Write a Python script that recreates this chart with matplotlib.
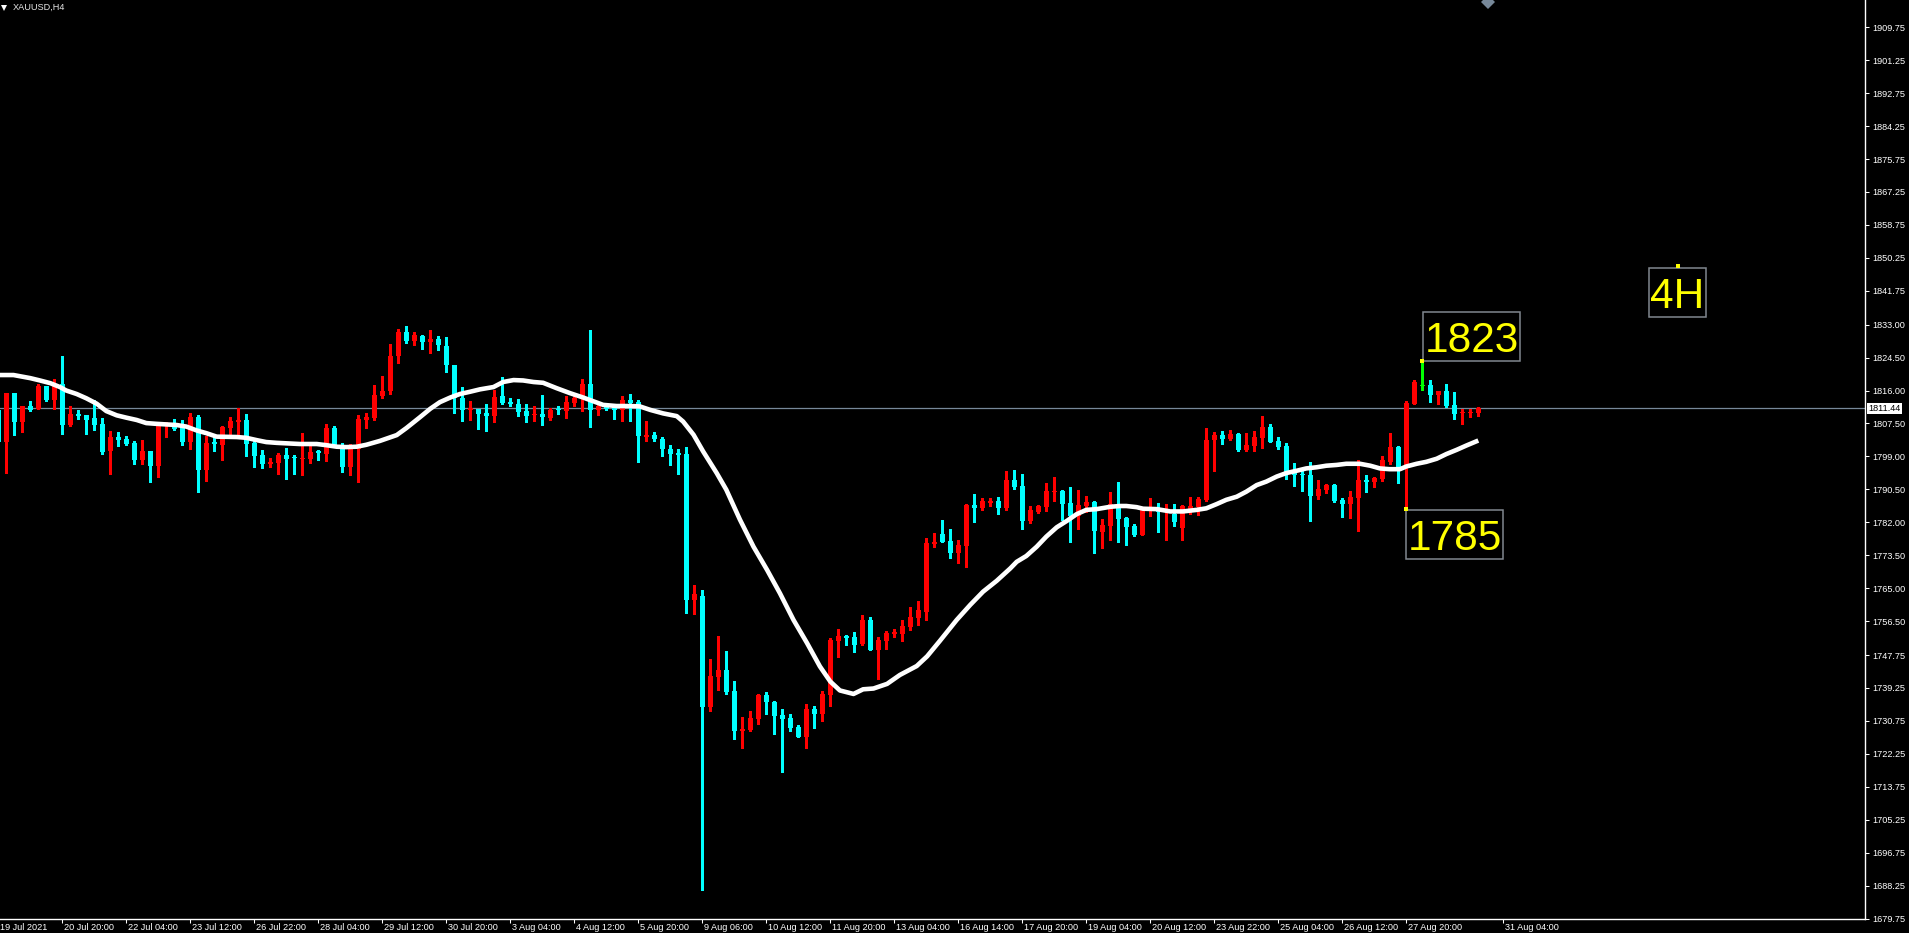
import numpy as np
import matplotlib
matplotlib.use("Agg")
import matplotlib.pyplot as plt
import matplotlib.transforms as mtransforms
from matplotlib import font_manager
from matplotlib.lines import Line2D
from matplotlib.path import Path

# ---------------- data ----------------
chart_title = "XAUUSD,H4"
first_bar = -1

opens = [1811.0, 1802.8, 1815.3, 1808.0, 1812.0, 1811.3, 1817.2, 1813.6, 1817.7, 1807.1,
         1810.0, 1809.6, 1808.8, 1807.4, 1800.3, 1804.1, 1803.5, 1802.4, 1798.1, 1800.5,
         1796.4, 1807.0, 1807.1, 1807.1, 1802.8, 1809.2, 1795.5, 1802.6, 1802.0, 1806.4,
         1808.0, 1808.4, 1802.5, 1799.4, 1797.1, 1797.3, 1799.4, 1798.9, 1798.4, 1798.4,
         1800.5, 1799.7, 1806.4, 1802.0, 1796.3, 1801.0, 1808.4, 1808.9, 1814.65, 1815.8,
         1824.8, 1831.1, 1828.8, 1830.2, 1828.4, 1829.4, 1827.5, 1822.6, 1814.1, 1810.9,
         1811.3, 1810.3, 1809.5, 1814.6, 1813.1, 1812.6, 1810.8, 1809.6, 1810.0, 1808.8,
         1811.2, 1810.8, 1812.9, 1814.0, 1817.8, 1811.1, 1812.0, 1811.9, 1810.9, 1813.6,
         1813.0, 1803.9, 1804.4, 1803.6, 1801.0, 1799.9, 1799.7, 1761.9, 1763.0, 1734.4,
         1742.2, 1743.9, 1738.5, 1728.2, 1728.5, 1731.3, 1737.5, 1735.7, 1732.3, 1731.5,
         1729.2, 1726.6, 1733.8, 1732.5, 1737.5, 1751.4, 1752.7, 1752.4, 1750.6, 1756.8,
         1749.1, 1751.4, 1753.2, 1753.2, 1755.0, 1757.3, 1758.9, 1776.4, 1779.0, 1777.2,
         1774.1, 1775.9, 1786.5, 1785.7, 1787.0, 1787.5, 1785.7, 1793.0, 1791.4, 1782.4,
         1784.7, 1786.0, 1789.8, 1790.1, 1787.0, 1783.7, 1786.2, 1787.3, 1779.5, 1781.1,
         1786.5, 1783.1, 1781.1, 1778.8, 1785.0, 1785.2, 1784.8, 1784.2, 1780.6, 1785.5,
         1786.0, 1787.8, 1803.3, 1804.6, 1803.5, 1804.8, 1800.7, 1801.7, 1803.8, 1806.6,
         1803.0, 1801.7, 1794.7, 1794.5, 1794.2, 1788.8, 1790.4, 1791.7, 1787.8, 1786.8,
         1788.3, 1792.9, 1792.4, 1793.2, 1797.6, 1801.5, 1796.3, 1812.5, 1817.2, 1817.5,
         1814.9, 1815.9, 1812.3, 1810.1, 1810.2, 1810.2]
highs = [1811.6, 1815.3, 1815.3, 1812.0, 1813.3, 1817.7, 1817.2, 1818.9, 1824.9, 1812.0,
         1811.0, 1809.6, 1813.6, 1809.0, 1805.6, 1805.3, 1804.3, 1803.0, 1803.3, 1800.5,
         1807.1, 1807.9, 1808.7, 1808.4, 1810.2, 1809.7, 1804.3, 1804.1, 1806.9, 1809.2,
         1811.5, 1810.0, 1803.0, 1800.7, 1798.6, 1799.9, 1801.2, 1799.4, 1805.1, 1801.7,
         1800.7, 1807.4, 1806.9, 1802.5, 1802.2, 1809.7, 1810.2, 1817.5, 1819.8, 1828.1,
         1832.0, 1832.7, 1831.1, 1830.4, 1831.5, 1830.2, 1829.8, 1822.6, 1816.9, 1813.3,
         1811.3, 1812.5, 1816.1, 1819.4, 1814.0, 1813.9, 1812.6, 1812.1, 1814.9, 1811.5,
         1811.9, 1814.7, 1814.9, 1819.0, 1831.7, 1812.9, 1812.2, 1812.1, 1814.7, 1815.0,
         1813.6, 1808.2, 1805.4, 1803.9, 1802.0, 1800.8, 1801.4, 1765.9, 1764.6, 1746.8,
         1752.7, 1748.9, 1741.1, 1731.8, 1733.4, 1737.6, 1738.2, 1735.9, 1733.8, 1732.5,
         1729.7, 1735.1, 1734.6, 1738.5, 1752.2, 1754.5, 1752.9, 1753.7, 1758.1, 1757.6,
         1752.4, 1754.0, 1754.5, 1756.8, 1760.2, 1761.7, 1778.0, 1779.3, 1782.6, 1780.3,
         1777.5, 1786.8, 1789.3, 1788.3, 1788.3, 1788.6, 1795.3, 1795.5, 1794.5, 1786.2,
         1786.4, 1792.2, 1793.7, 1790.4, 1791.1, 1790.4, 1788.8, 1787.5, 1782.9, 1789.9,
         1792.4, 1783.4, 1781.6, 1785.7, 1788.3, 1787.0, 1786.8, 1786.8, 1786.5, 1788.6,
         1788.6, 1806.4, 1805.3, 1805.6, 1805.8, 1805.0, 1805.1, 1805.6, 1809.5, 1807.4,
         1804.0, 1802.5, 1797.3, 1795.5, 1797.6, 1792.9, 1791.8, 1791.9, 1788.3, 1790.1,
         1798.1, 1794.2, 1793.7, 1799.1, 1805.1, 1801.7, 1813.3, 1818.7, 1823.7, 1818.7,
         1816.0, 1817.7, 1815.7, 1811.3, 1811.3, 1811.8]
lows = [1801.8, 1794.8, 1804.6, 1805.4, 1810.6, 1811.3, 1813.4, 1811.3, 1804.8, 1806.9,
        1808.7, 1804.8, 1805.8, 1799.6, 1794.5, 1801.7, 1802.0, 1797.1, 1797.1, 1792.4,
        1793.7, 1804.0, 1805.8, 1802.0, 1801.0, 1789.7, 1792.7, 1800.4, 1798.1, 1804.6,
        1804.6, 1799.1, 1796.3, 1796.0, 1796.3, 1794.5, 1793.2, 1794.5, 1794.2, 1797.3,
        1798.1, 1797.8, 1802.0, 1795.0, 1794.2, 1792.4, 1806.4, 1808.4, 1814.2, 1815.0,
        1823.1, 1828.2, 1827.7, 1826.7, 1825.7, 1826.4, 1820.7, 1810.1, 1808.2, 1808.5,
        1806.1, 1805.6, 1808.0, 1812.4, 1812.0, 1809.3, 1808.0, 1808.2, 1807.0, 1808.5,
        1809.9, 1808.8, 1811.9, 1810.6, 1806.6, 1809.8, 1810.9, 1808.7, 1808.2, 1808.2,
        1797.6, 1803.0, 1803.0, 1799.2, 1796.8, 1794.5, 1758.7, 1758.4, 1687.0, 1733.4,
        1738.8, 1737.7, 1726.1, 1723.7, 1728.2, 1730.0, 1732.5, 1727.4, 1717.6, 1728.2,
        1726.6, 1723.8, 1728.9, 1730.7, 1734.6, 1747.3, 1750.4, 1748.6, 1750.4, 1749.1,
        1741.6, 1749.3, 1752.4, 1751.4, 1754.2, 1755.5, 1756.8, 1775.7, 1776.9, 1772.8,
        1771.5, 1770.5, 1782.1, 1785.2, 1786.2, 1784.2, 1785.2, 1790.6, 1780.3, 1781.8,
        1784.4, 1784.9, 1787.5, 1782.6, 1776.9, 1780.3, 1784.7, 1774.1, 1775.4, 1777.4,
        1776.9, 1776.2, 1778.5, 1778.8, 1783.6, 1779.5, 1777.5, 1781.1, 1777.5, 1784.2,
        1783.9, 1787.5, 1795.3, 1802.2, 1803.3, 1800.4, 1800.4, 1800.4, 1801.2, 1802.8,
        1800.9, 1793.2, 1791.4, 1790.1, 1782.4, 1788.0, 1789.6, 1787.3, 1783.4, 1783.1,
        1779.8, 1789.8, 1791.1, 1792.7, 1797.1, 1792.2, 1785.5, 1812.5, 1816.2, 1813.1,
        1812.6, 1811.8, 1808.7, 1807.4, 1809.2, 1809.5]
closes = [1802.8, 1815.3, 1808.0, 1812.0, 1811.0, 1817.2, 1813.6, 1817.7, 1807.1, 1810.0,
          1809.5, 1808.4, 1807.1, 1800.1, 1804.0, 1803.3, 1802.2, 1798.1, 1800.5, 1796.4,
          1807.1, 1807.1, 1806.0, 1802.8, 1809.2, 1795.5, 1802.4, 1802.3, 1806.6, 1808.2,
          1808.5, 1802.2, 1799.1, 1797.1, 1797.6, 1799.4, 1798.4, 1798.5, 1798.7, 1800.2,
          1800.0, 1806.4, 1802.0, 1796.3, 1801.0, 1808.7, 1809.2, 1814.9, 1816.0, 1825.0,
          1831.1, 1828.8, 1830.4, 1828.4, 1829.4, 1827.7, 1822.5, 1814.0, 1810.9, 1811.5,
          1810.0, 1809.5, 1814.4, 1812.9, 1812.4, 1810.5, 1809.5, 1810.0, 1809.1, 1811.0,
          1810.9, 1813.1, 1814.0, 1817.8, 1811.1, 1812.0, 1811.3, 1810.9, 1813.6, 1812.9,
          1804.2, 1804.4, 1803.4, 1800.8, 1799.7, 1799.4, 1761.9, 1763.5, 1734.4, 1742.4,
          1743.9, 1738.2, 1728.2, 1728.7, 1731.5, 1737.4, 1735.7, 1732.0, 1731.3, 1728.9,
          1726.6, 1733.8, 1732.5, 1737.7, 1751.7, 1752.7, 1752.2, 1750.4, 1756.8, 1749.1,
          1751.7, 1753.5, 1753.7, 1755.3, 1757.6, 1759.4, 1776.7, 1776.9, 1776.9, 1774.1,
          1776.2, 1786.5, 1785.7, 1787.5, 1787.5, 1785.7, 1793.0, 1791.1, 1782.4, 1785.2,
          1786.2, 1790.1, 1790.2, 1786.8, 1783.7, 1786.5, 1787.3, 1779.8, 1781.3, 1786.8,
          1782.9, 1780.8, 1778.8, 1785.2, 1785.4, 1784.7, 1785.2, 1782.1, 1786.2, 1786.2,
          1788.0, 1803.3, 1804.6, 1803.5, 1804.8, 1800.7, 1802.0, 1804.0, 1806.6, 1802.8,
          1801.5, 1794.7, 1794.3, 1794.2, 1788.8, 1790.6, 1791.7, 1787.5, 1786.8, 1788.6,
          1792.9, 1792.5, 1793.4, 1798.1, 1801.5, 1796.3, 1812.8, 1818.2, 1817.2, 1814.9,
          1815.9, 1812.0, 1810.0, 1810.4, 1810.5, 1811.44]

ma_bars = [-0.8, 0.9, 3.0, 4.2, 5.5, 6.7, 7.5, 8.8, 10.0, 11.3, 12.5, 13.8, 15.0, 16.3,
           17.5, 18.8, 21.3, 22.5, 23.8, 25.0, 26.3, 28.8, 30.0, 31.3, 32.5, 33.8, 36.7,
           38.8, 40.0, 41.3, 42.5, 43.8, 45.0, 46.7, 48.8, 50.0, 51.7, 53.0, 54.2, 55.5,
           56.7, 58.0, 59.2, 60.9, 62.1, 63.4, 64.6, 65.9, 67.1, 68.8, 70.5, 72.1, 73.4,
           74.6, 76.3, 78.0, 79.2, 80.5, 82.1, 83.8, 84.6, 85.9, 87.1, 88.8, 90.0, 91.7,
           93.4, 95.1, 96.7, 98.4, 100.1, 101.7, 103.0, 104.2, 105.9, 107.1, 108.4, 110.1,
           111.7, 113.8, 115.1, 116.7, 118.8, 120.5, 122.1, 123.8, 125.5, 126.3, 127.5,
           128.8, 130.0, 131.3, 132.6, 133.8, 135.0, 136.3, 138.0, 139.2, 140.0, 141.3,
           142.1, 143.8, 145.5, 147.1, 148.8, 150.0, 151.3, 152.5, 153.8, 155.0, 156.3,
           157.5, 158.8, 160.0, 161.3, 162.5, 163.8, 165.0, 166.3, 167.5, 169.2, 170.5,
           171.7, 172.9, 174.2, 175.0, 176.3, 177.5, 178.8, 180.0, 181.3, 182.5, 184.0]
ma_values = [1820.0, 1820.0, 1819.2, 1818.6, 1817.9, 1816.9, 1816.0, 1815.1, 1814.0, 1812.6,
             1810.7, 1809.6, 1809.0, 1808.4, 1807.6, 1807.4, 1807.1, 1806.7, 1805.7, 1805.0,
             1804.1, 1804.0, 1803.8, 1803.2, 1802.7, 1802.5, 1802.2, 1802.2, 1801.9, 1801.5,
             1801.4, 1801.5, 1802.0, 1803.0, 1804.5, 1806.3, 1809.1, 1811.3, 1813.0, 1814.2,
             1815.1, 1815.7, 1816.3, 1816.9, 1818.2, 1818.7, 1818.6, 1818.2, 1818.0, 1816.6,
             1815.3, 1814.2, 1813.2, 1812.3, 1812.0, 1812.0, 1811.9, 1811.0, 1810.1, 1809.4,
             1808.0, 1804.6, 1800.3, 1794.7, 1790.4, 1782.7, 1775.7, 1769.7, 1763.7, 1756.8,
             1750.8, 1744.8, 1740.9, 1738.6, 1737.7, 1738.9, 1739.1, 1740.3, 1742.6, 1744.9,
             1747.4, 1751.4, 1756.8, 1760.7, 1764.1, 1766.9, 1770.1, 1771.8, 1773.3, 1775.7,
             1778.3, 1780.7, 1782.4, 1784.1, 1785.2, 1785.4, 1786.0, 1786.2, 1786.2, 1785.9,
             1785.5, 1785.4, 1784.8, 1784.8, 1785.2, 1785.6, 1786.7, 1787.8, 1788.6, 1789.9,
             1791.6, 1792.5, 1793.8, 1794.7, 1795.3, 1795.9, 1796.2, 1796.6, 1796.8, 1797.1,
             1797.1, 1796.6, 1795.9, 1795.7, 1795.7, 1796.4, 1797.1, 1797.6, 1798.4, 1799.6,
             1800.7, 1801.8, 1803.1]

bid_price = 1811.44
bid_label = "1811.44"

price_ticks = [1909.75, 1901.25, 1892.75, 1884.25, 1875.75, 1867.25, 1858.75, 1850.25,
               1841.75, 1833.00, 1824.50, 1816.00, 1807.50, 1799.00, 1790.50, 1782.00,
               1773.50, 1765.00, 1756.50, 1747.75, 1739.25, 1730.75, 1722.25, 1713.75,
               1705.25, 1696.75, 1688.25, 1679.75]
price_tick_labels = ["%.2f" % v for v in price_ticks]

time_labels = ["19 Jul 2021", "20 Jul 20:00", "22 Jul 04:00", "23 Jul 12:00", "26 Jul 22:00",
               "28 Jul 04:00", "29 Jul 12:00", "30 Jul 20:00", "3 Aug 04:00", "4 Aug 12:00",
               "5 Aug 20:00", "9 Aug 06:00", "10 Aug 12:00", "11 Aug 20:00", "13 Aug 04:00",
               "16 Aug 14:00", "17 Aug 20:00", "19 Aug 04:00", "20 Aug 12:00", "23 Aug 22:00",
               "25 Aug 04:00", "26 Aug 12:00", "27 Aug 20:00", "31 Aug 04:00"]
time_label_bars = [-1, 7, 15, 23, 31, 39, 47, 55, 63, 71, 79, 87, 95, 103, 111, 119, 127,
                   135, 143, 151, 159, 167, 175, 187.1]

note_texts = ["1823", "1785", "4H"]
note_bars = [177, 175, 208.9]
note_prices = [1823.7, 1785.5, 1848.1]

# ---------------- style ----------------
W, H = 1909, 933
names = {f.name for f in font_manager.fontManager.ttflist}
if "Liberation Sans Narrow" in names:
    small_font, small_size = "Liberation Sans Narrow", 8.0
else:
    small_font, small_size = "Liberation Sans", 6.6
big_font = "Liberation Sans" if "Liberation Sans" in names else "DejaVu Sans"

BULL = "#ff0000"
BEAR = "#00ffff"
DOJI = "#00ff00"
GRID_GRAY = "#778899"
BOX_GRAY = "#80878f"

fig = plt.figure(figsize=(W / 100, H / 100), dpi=100, facecolor="black")

left_px, right_px, bottom_px = -2.0, 1865.0, 918.5
ax = fig.add_axes([left_px / W, (H - bottom_px) / H, (right_px - left_px) / W, bottom_px / H])
ax.set_facecolor("black")

# bar index -> pixel: 6.3 + 8*i ; price scale 3.875 px per unit
ax.set_xlim((left_px - 6.3) / 8.0, (right_px - 6.3) / 8.0)
ax.set_ylim(1679.75, 1679.75 + bottom_px / 3.875)

o = np.array(opens)
h = np.array(highs)
l = np.array(lows)
c = np.array(closes)
x = np.arange(first_bar, first_bar + len(o))
cols = np.where(c > o, BULL, np.where(c < o, BEAR, DOJI))

ax.axhline(bid_price, color=GRID_GRAY, lw=0.9, zorder=1)

ax.vlines(x, l, h, colors=cols, lw=0.75, antialiased=False, zorder=2)
body_h = np.maximum(np.abs(c - o), 0.28)
ax.bar(x, body_h, bottom=np.minimum(o, c), width=5.0 / 8.0, color=cols,
       linewidth=0, antialiased=False, zorder=2)

ax.plot(ma_bars, ma_values, color="white", lw=3.3, solid_capstyle="butt",
        solid_joinstyle="round", zorder=3)

# axes frame
for side in ("top", "left"):
    ax.spines[side].set_visible(False)
for side in ("right", "bottom"):
    ax.spines[side].set_color("white")
    ax.spines[side].set_linewidth(1.0)

ax.yaxis.tick_right()
ax.set_yticks(price_ticks)
ax.set_yticklabels(price_tick_labels)
ax.tick_params(axis="y", direction="out", length=2.9, width=0.75, colors="white",
               pad=2.2, labelsize=small_size)
ax.set_xticks(time_label_bars)
ax.set_xticklabels(time_labels)
ax.tick_params(axis="x", direction="out", length=2.9, width=0.75, colors="white",
               pad=0.6, labelsize=small_size)
shift = mtransforms.ScaledTranslation(1.5 / 100, 0, fig.dpi_scale_trans)
for lab in ax.get_xticklabels():
    lab.set_ha("left")
    lab.set_fontfamily(small_font)
    lab.set_transform(lab.get_transform() + shift)
for lab in ax.get_yticklabels():
    lab.set_fontfamily(small_font)

# bid price box
bt = mtransforms.blended_transform_factory(ax.transAxes, ax.transData)
ax.text(1.0, bid_price, bid_label, transform=bt + mtransforms.ScaledTranslation(3.5 / 100, 0, fig.dpi_scale_trans),
        ha="left", va="center", color="black", fontsize=small_size, fontfamily=small_font,
        bbox=dict(boxstyle="square,pad=0.12", fc="white", ec="white", lw=0), zorder=6, clip_on=False)


# text notes: frame around the text extent (MT4 object frame), pads in pixels
def note_frame(x0, y0, width, height, mutation_size):
    pad_lr = 1.4
    pad_top = 9.0
    pad_bot = 0.0
    xa, xb = x0 - pad_lr, x0 + width + pad_lr
    ya, yb = y0 - pad_bot, y0 + height + pad_top
    return Path([(xa, ya), (xb, ya), (xb, yb), (xa, yb), (xa, ya)],
                [Path.MOVETO, Path.LINETO, Path.LINETO, Path.LINETO, Path.CLOSEPOLY])


note_offsets = [(2, -0.6), (1, -10), (0, -10.6)]
note_align = [("left", "bottom"), ("left", "top"), ("center", "top")]
for txt, nb, npz, off, (ha, va) in zip(note_texts, note_bars, note_prices, note_offsets, note_align):
    ax.annotate(txt, xy=(nb, npz), xytext=off, textcoords="offset pixels", ha=ha, va=va,
                color="#ffff00", fontsize=30.5, fontfamily=big_font,
                bbox=dict(boxstyle=note_frame, fc="none", ec=BOX_GRAY, lw=1.1), zorder=7)
ax.plot(note_bars, note_prices, "s", ms=2.4, mew=0, color="#ffff00", zorder=8)

# title and markers
fig.text(13 / W, 1 - 3 / H, chart_title, color="#e6e6e6", fontsize=small_size,
         fontfamily=small_font, ha="left", va="top")
fig.add_artist(Line2D([4.3 / W], [1 - 7.5 / H], marker="v", ms=4.2, mew=0, color="white",
                      transform=fig.transFigure))
fig.add_artist(Line2D([1488 / W], [1 - 1.5 / H], marker="D", ms=7.5, mew=0, color=GRID_GRAY,
                      transform=fig.transFigure))

fig.savefig("out.png", dpi=100, facecolor="black")
